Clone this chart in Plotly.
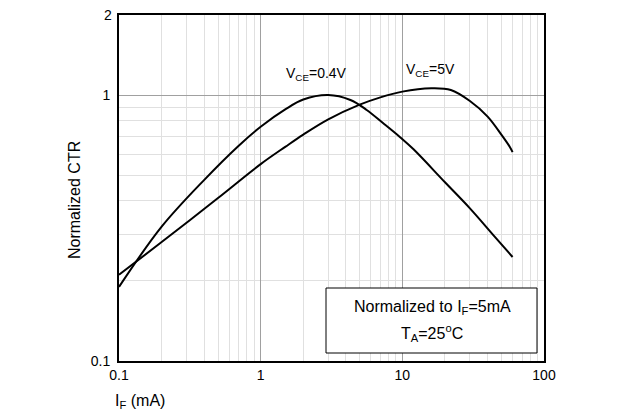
import plotly.graph_objects as go

# Forward current (mA) and normalized CTR
if_04 = [0.1, 0.2, 0.4, 0.7, 1.0, 1.5, 2.0, 3.0, 4.3, 5.6, 7.3, 9.6, 12.0, 20.0, 30.0, 45.0, 60.0]
ctr_04 = [0.190, 0.320, 0.480, 0.645, 0.760, 0.885, 0.962, 1.0, 0.958, 0.879, 0.785, 0.696, 0.625, 0.470, 0.375, 0.293, 0.246]

if_5 = [0.1, 0.2, 0.5, 1.0, 1.5, 2.0, 3.0, 5.0, 7.0, 10.0, 16.0, 22.0, 30.0, 40.0, 50.0, 57.4, 60.0]
ctr_5 = [0.211, 0.280, 0.410, 0.550, 0.640, 0.710, 0.810, 0.920, 0.980, 1.03, 1.06, 1.045, 0.950, 0.830, 0.710, 0.638, 0.610]

x_ticks = [0.1, 1, 10, 100]
x_ticktext = ["0.1", "1", "10", "100"]
y_ticks = [0.1, 1]
y_ticktext = ["0.1", "1"]
y_top_label = "2"  # label of the top edge, y = 2

x_minor = [m * d for d in (0.1, 1, 10) for m in range(2, 10)]
y_minor = [m * 0.1 for m in range(2, 10)]

FONT = "Liberation Sans, Arial, sans-serif"
OFF = 8  # page body margin in the browser

fig = go.Figure()
for xs, ys in ((if_04, ctr_04), (if_5, ctr_5)):
    fig.add_trace(go.Scatter(x=xs, y=ys, mode="lines",
                             line=dict(color="black", width=2, shape="spline", smoothing=1.0),
                             showlegend=False, hoverinfo="skip"))

axis_common = dict(type="log", showgrid=True, gridcolor="#a0a0a0", gridwidth=1,
                   showline=True, linecolor="black", linewidth=2, mirror=True, automargin=False,
                   ticks="", tickfont=dict(family=FONT, size=14, color="black"), zeroline=False)
fig.update_xaxes(range=[-1, 2], tickvals=x_ticks, ticktext=x_ticktext, ticklabelstandoff=0,
                 minor=dict(tickvals=x_minor, showgrid=True, gridcolor="#e0e0e0", gridwidth=1, ticks=""),
                 **axis_common)
fig.update_yaxes(range=[-1, 0.30103], tickvals=y_ticks, ticktext=y_ticktext, ticklabelstandoff=4,
                 minor=dict(tickvals=y_minor, showgrid=True, gridcolor="#e0e0e0", gridwidth=1, ticks=""),
                 **axis_common)

W, H = 631 - OFF, 414 - OFF
PL, PR, PT, PB = 119, 544, 15, 361  # plot area in page pixels
L, T = PL - OFF, PT - OFF
R = W - (PR - OFF)
B = H - (PB - OFF)
pw, ph = PR - PL, PB - PT


def px(x):
    return (x - PL) / pw


def py(y):
    return 1 - (y - PT) / ph


texts = [
    ("Normalized CTR", 74, 200, -90, 16, "center"),
    ("I<sub>F</sub> (mA)", 140, 401, 0, 16, "center"),
    ("V<sub>CE</sub>=0.4V", 316, 74, 0, 14, "center"),
    ("V<sub>CE</sub>=5V", 430, 70, 0, 14, "center"),
    ("Normalized to I<sub>F</sub>=5mA", 432, 307, 0, 16, "center"),
    ("T<sub>A</sub>=25<sup>o</sup>C", 432, 333, 0, 16, "center"),
]
anns = [dict(text=t, x=px(x), y=py(y), xref="paper", yref="paper", textangle=a,
             showarrow=False, xanchor=xa, yanchor="middle",
             font=dict(family=FONT, size=s, color="black")) for t, x, y, a, s, xa in texts]
# top-edge tick label (y = 2 is the top of the log range, i.e. paper y = 1)
anns.append(dict(text=y_top_label, x=0, xshift=-5, y=1, yref="paper", xref="paper",
                 xanchor="right", yanchor="middle", showarrow=False,
                 font=dict(family=FONT, size=14, color="black")))

fig.update_layout(width=W, height=H, margin=dict(l=L, r=R, t=T, b=B, pad=0),
                  paper_bgcolor="white", plot_bgcolor="white",
                  annotations=anns,
                  shapes=[dict(type="rect", xref="paper", yref="paper",
                               x0=px(326), x1=px(537), y0=py(353), y1=py(288),
                               line=dict(color="black", width=1), fillcolor="white", layer="above")])

fig.write_html("out.html")
